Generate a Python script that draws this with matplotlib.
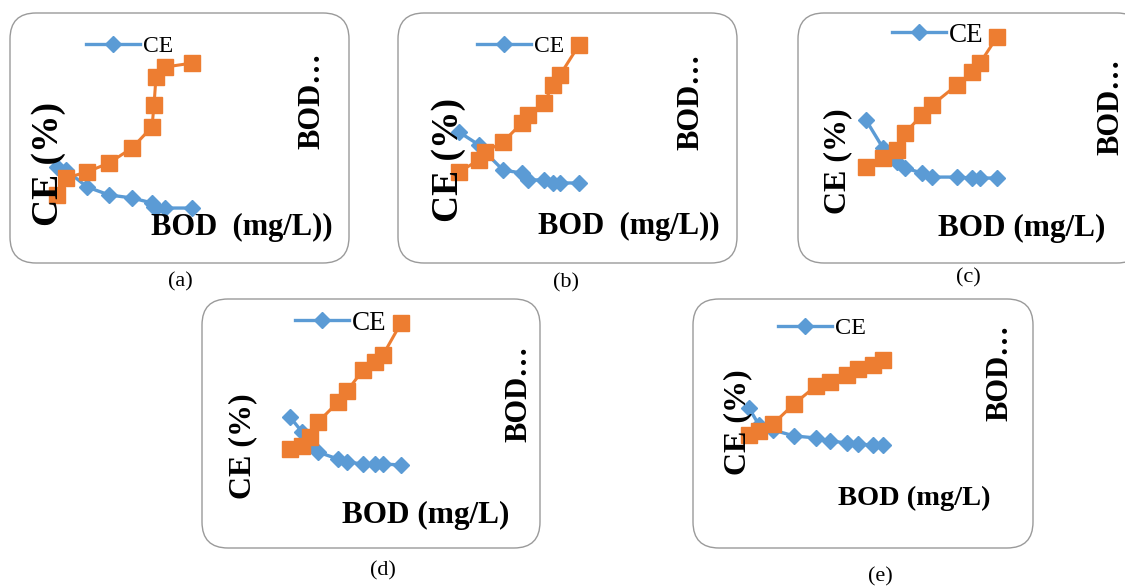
import matplotlib
matplotlib.use("Agg")
import matplotlib.pyplot as plt
from matplotlib.patches import FancyBboxPatch
from matplotlib.lines import Line2D

plt.rcParams['font.family'] = ['Liberation Serif', 'DejaVu Serif']

# BOD (mg/L), CE (%) and the second (orange) series
bod_a = [12, 21, 42, 64, 87, 107, 109, 111, 120, 147]
ce_a = [32.1, 30.5, 21.6, 17.4, 15.8, 13.2, 11.1, 10.5, 10.5, 10.5]
rem_a = [17.4, 26.3, 29.5, 34.2, 42.1, 53.2, 64.7, 79.5, 84.7, 86.8]

bod_b = [26, 46, 52, 70, 89, 95, 111, 120, 127, 146]
ce_b = [50.5, 43.7, 40.0, 30.5, 28.9, 25.3, 25.3, 23.7, 23.7, 23.7]
rem_b = [29.5, 35.8, 40.0, 45.3, 55.3, 59.5, 65.8, 75.3, 80.5, 96.3]

bod_c = [33, 50, 64, 72, 89, 99, 124, 139, 147, 164]
ce_c = [56.8, 42.1, 34.7, 31.6, 28.9, 26.8, 26.8, 26.3, 26.3, 26.3]
rem_c = [32.1, 36.8, 41.1, 50.0, 59.5, 64.7, 75.3, 82.1, 86.8, 100.5]

bod_d = [53, 65, 73, 81, 101, 110, 126, 138, 146, 164]
ce_d = [51.1, 43.2, 36.3, 32.6, 28.9, 27.4, 26.3, 26.3, 26.3, 25.8]
rem_d = [34.2, 35.8, 40.5, 48.4, 58.9, 64.7, 75.8, 80.0, 83.7, 100.5]

bod_e = [21, 31, 45, 66, 88, 102, 119, 130, 145, 155]
ce_e = [55.8, 46.8, 44.2, 41.1, 40.0, 38.4, 37.4, 36.8, 36.3, 36.3]
rem_e = [41.6, 43.7, 47.4, 57.9, 67.4, 69.5, 73.2, 76.3, 78.4, 81.1]

captions = ['(a)', '(b)', '(c)', '(d)', '(e)']
xlabels = ['BOD  (mg/L))', 'BOD  (mg/L))', 'BOD (mg/L)', 'BOD (mg/L)', 'BOD (mg/L)']

BLUE = '#5B9BD5'
ORANGE = '#ED7D31'

W, H = 1125, 586
fig = plt.figure(figsize=(W / 100, H / 100), dpi=100)
inch = fig.dpi_scale_trans


def px(x, y):
    # pixel (from top-left) -> inches (from bottom-left)
    return x / 100, (H - y) / 100


# layout per panel: box corner, box size, ylabel, xlabel, right label, legend, caption
layout = [
    dict(box=(10, 13, 339, 250), ylab=(49, 164, 27), xlab=(242, 227, 22), rlab=(312, 101, 22),
         leg=(86, 46, 17), cap=(180, 282)),
    dict(box=(398, 13, 339, 250), ylab=(448, 160, 27), xlab=(629, 226, 22), rlab=(691, 102, 22),
         leg=(477, 46, 17), cap=(566, 283)),
    dict(box=(798, 13, 345, 250), ylab=(838, 161, 23), xlab=(1022, 228, 22.5), rlab=(1111, 107, 22),
         leg=(892, 35, 19.5), cap=(968, 278)),
    dict(box=(202, 299, 338, 249), ylab=(243, 446, 23), xlab=(426, 515, 22.5), rlab=(519, 394, 22),
         leg=(295, 323, 19.5), cap=(383, 571)),
    dict(box=(693, 299, 340, 249), ylab=(738, 422, 23), xlab=(914, 498, 20.5), rlab=(1000, 373, 22),
         leg=(778, 328, 17.5), cap=(880, 577)),
]

series = [(bod_a, ce_a, rem_a), (bod_b, ce_b, rem_b), (bod_c, ce_c, rem_c),
          (bod_d, ce_d, rem_d), (bod_e, ce_e, rem_e)]

for i, (lay, (bod, ce, rem)) in enumerate(zip(layout, series)):
    bx, by, bw, bh = lay['box']
    x0, y0 = px(bx, by + bh)
    box = FancyBboxPatch((x0, y0), bw / 100, bh / 100,
                         boxstyle="round,pad=0,rounding_size=0.26",
                         transform=inch, fc='white', ec='#9a9a9a', lw=1.0, zorder=-5)
    fig.add_artist(box)

    # plot area inside the box
    left, top = bx + 35, by + 25
    ax = fig.add_axes([left / W, 1 - (top + 190) / H, 180 / W, 190 / H])
    ax.set_xlim(0, 180)
    ax.set_ylim(0, 100)
    ax.axis('off')
    ax.plot(bod, ce, color=BLUE, lw=2.4, marker='D', ms=8.5, clip_on=False, zorder=2)
    ax.plot(bod, rem, color=ORANGE, lw=2.2, marker='s', ms=11.5, clip_on=False, zorder=3)

    # labels
    x, y, s = lay['ylab']
    fig.text(*px(x, y), 'CE (%)', transform=inch, rotation=90, ha='center', va='center',
             fontsize=s, fontweight='bold')
    x, y, s = lay['xlab']
    fig.text(*px(x, y), xlabels[i], transform=inch, ha='center', va='center',
             fontsize=s, fontweight='bold')
    x, y, s = lay['rlab']
    fig.text(*px(x, y), 'BOD\u2026', transform=inch, rotation=90, ha='center', va='center',
             fontsize=s, fontweight='bold')
    x, y = lay['cap']
    fig.text(*px(x, y), captions[i], transform=inch, ha='center', va='center', fontsize=16)

    # legend with the CE series only
    x, y, s = lay['leg']
    handle = Line2D([], [], color=BLUE, lw=2.4, marker='D', ms=8.5)
    fig.legend(handles=[handle], labels=['CE'], loc='center left',
               bbox_to_anchor=px(x, y), bbox_transform=inch, frameon=False,
               borderpad=0, borderaxespad=0, handlelength=54 / (s * 1.389),
               handletextpad=0.12, fontsize=s, numpoints=1)

fig.savefig('out.png', dpi=100, facecolor='white')
